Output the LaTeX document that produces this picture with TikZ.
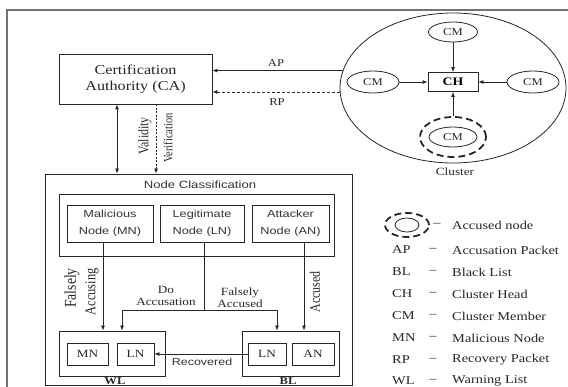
\documentclass[tikz,border=0pt]{standalone}
\usepackage{fontspec}
\setmainfont[FakeStretch=1.2]{Liberation Serif}
\setsansfont[FakeStretch=1.25]{Liberation Sans}
\newfontfamily\rotserif[FakeStretch=0.83]{Liberation Serif}
\usetikzlibrary{shapes.geometric,arrows.meta,calc}
\tikzset{
  ln/.style={draw=black!85, line width=0.8pt},
  box/.style={ln, rectangle, inner sep=0pt},
  oval/.style={ln, ellipse, inner sep=0pt},
  arr/.style={ln, -{Latex[length=5pt,width=4pt]}},
  darr/.style={ln, {Latex[length=5pt,width=4pt]}-{Latex[length=5pt,width=4pt]}},
  accdash/.style={draw=black!85, ellipse, inner sep=0pt, line width=1.8pt, dash pattern=on 7pt off 4pt},
  sf/.style={font=\sffamily\fontsize{10.2}{17}\selectfont, text=black!80},
  rm/.style={font=\fontsize{11}{12}\selectfont, text=black!85},
  cmtext/.style={font=\fontsize{10.5}{12}\selectfont, text=black!85},
  leg/.style={font=\fontsize{12}{13}\selectfont, text=black!85, anchor=west, inner sep=0pt},
  rot/.style={rotate=90, text=black!85, inner sep=0pt},
}
\begin{document}
\begin{tikzpicture}[x=1pt,y=-1pt]
\useasboundingbox (0,0) rectangle (568,387);
\draw[draw=black!55, line width=1.2pt] (7,10) rectangle (590,400);

% Certification authority
\node[box, minimum width=153pt, minimum height=50pt, align=center,
      font=\fontsize{13.5}{16}\selectfont, text=black!85] (ca) at (135.5,79) {Certification\\Authority (CA)};

% Cluster
\node[oval, minimum width=226pt, minimum height=150pt] (cluster) at (453,88) {};
\node[oval, cmtext, minimum width=49pt, minimum height=20pt] (cmt) at (453,32) {CM};
\node[oval, cmtext, minimum width=52pt, minimum height=22pt] (cml) at (373,82) {CM};
\node[oval, cmtext, minimum width=52pt, minimum height=22pt] (cmr) at (533,82) {CM};
\node[box, minimum width=50pt, minimum height=19pt, font=\bfseries\fontsize{11.5}{12}\selectfont] (ch) at (453,82) {CH};
\node[oval, cmtext, minimum width=48pt, minimum height=20pt] (cmb) at (453,137) {CM};
\node[accdash, minimum width=66pt, minimum height=40pt] (acc) at (453,137) {};
\node[cmtext, font=\fontsize{11}{12}\selectfont] (clbl) at (455,172) {Cluster};
\draw[arr] (cmt) -- (ch);
\draw[arr] (cml) -- (ch);
\draw[arr] (cmr) -- (ch);
\draw[arr] (acc) -- (ch);

% AP / RP
\draw[arr] (cluster.171.2) -- (cluster.171.2 -| ca.east);
\draw[arr, dash pattern=on 3pt off 2pt] (cluster.182) -- (cluster.182 -| ca.east);
\node[cmtext] (ap) at (276,63) {AP};
\node[cmtext] (rp) at (277,102) {RP};

% Node classification
\node[box, minimum width=307pt, minimum height=211pt] (big) at (198.5,279.5) {};
\node[sf, font=\sffamily\fontsize{10.5}{12}\selectfont] (nct) at (200,185) {Node Classification};
\node[box, minimum width=275pt, minimum height=62pt] (inner) at (196.5,225) {};
\node[box, sf, align=center, minimum width=86pt, minimum height=37pt] (mal) at (110,223.5) {Malicious\\Node (MN)};
\node[box, sf, align=center, minimum width=84pt, minimum height=37pt] (leg) at (202,223.5) {Legitimate\\Node (LN)};
\node[box, sf, align=center, minimum width=77pt, minimum height=37pt] (att) at (290.5,223.5) {Attacker\\Node (AN)};

% CA <-> classification
\draw[darr] ([xshift=-18.5pt]ca.south) -- ([xshift=-18.5pt]ca.south |- big.north);
\draw[arr, dash pattern=on 2pt off 1.5pt] ([xshift=20.5pt]ca.south) -- ([xshift=20.5pt]ca.south |- big.north);
\node[rot, font=\rotserif\fontsize{14.4}{14}\selectfont] (lval) at (145,136) {Validity};
\node[rot, font=\rotserif\fontsize{12.6}{13}\selectfont] (lver) at (168,138) {Verification};

% WL and BL
\node[box, minimum width=106pt, minimum height=45pt] (wl) at (112,353.5) {};
\node[box, rm, minimum width=41pt, minimum height=22pt] (wmn) at (87.5,354) {MN};
\node[box, rm, minimum width=37pt, minimum height=22pt] (wln) at (135.5,354) {LN};
\node[font=\bfseries\fontsize{10.5}{11}\selectfont, text=black!85, inner sep=0pt] (wllbl) at (115,381) {WL};
\node[box, minimum width=97pt, minimum height=45pt] (bl) at (290.5,353.5) {};
\node[box, rm, minimum width=38pt, minimum height=22pt] (bln) at (267,354) {LN};
\node[box, rm, minimum width=42pt, minimum height=22pt] (ban) at (313,354) {AN};
\node[font=\bfseries\fontsize{10.5}{11}\selectfont, text=black!85, inner sep=0pt] (bllbl) at (288,381) {BL};

% flows
\draw[arr] ([xshift=-7pt]mal.south) -- ([xshift=-7pt]mal.south |- wl.north);
\coordinate (junc) at (204,310);
\draw[ln] (leg.south -| junc) -- (junc);
\draw[arr] (junc) -| ([xshift=10pt]wl.north);
\draw[arr] (junc) -| ([xshift=-13.5pt]bl.north);
\draw[arr] ([xshift=13.5pt]att.south) -- ([xshift=13.5pt]att.south |- bl.north);
\draw[arr] (bln) -- (wln);

\node[rot, font=\rotserif\fontsize{16.5}{16}\selectfont] (lfa1) at (72,288) {Falsely};
\node[rot, font=\rotserif\fontsize{15}{15}\selectfont] (lfa2) at (92,292) {Accusing};
\node[rm, align=center] (ldo) at (166,296) {Do\\Accusation};
\node[rm, align=center] (lfd) at (240,297.5) {Falsely\\Accused};
\node[rot, font=\rotserif\fontsize{14.4}{14}\selectfont] (lacc) at (315,292) {Accused};
\node[sf, font=\sffamily\fontsize{10}{12}\selectfont] (lrec) at (202,362) {Recovered};

% Legend
\node[accdash, minimum width=44pt, minimum height=24pt] (lege) at (407,225) {};
\node[oval, minimum width=24pt, minimum height=14pt] (legi) at (407,225) {};
\node[leg, anchor=center] (d0) at (437,225) {--};
\node[leg] (t0) at (452,225) {Accused node};
\node[leg] (a1) at (392,250) {AP};  \node[leg, anchor=center] (d1) at (433,250) {--}; \node[leg] (t1) at (452,250) {Accusation Packet};
\node[leg] (a2) at (392,272) {BL};  \node[leg, anchor=center] (d2) at (433,272) {--}; \node[leg] (t2) at (452,272) {Black List};
\node[leg] (a3) at (392,294) {CH};  \node[leg, anchor=center] (d3) at (433,294) {--}; \node[leg] (t3) at (452,294) {Cluster Head};
\node[leg] (a4) at (392,316) {CM};  \node[leg, anchor=center] (d4) at (433,316) {--}; \node[leg] (t4) at (452,316) {Cluster Member};
\node[leg] (a5) at (392,338) {MN};  \node[leg, anchor=center] (d5) at (433,338) {--}; \node[leg] (t5) at (452,338) {Malicious Node};
\node[leg] (a6) at (392,360) {RP};  \node[leg, anchor=center] (d6) at (433,360) {--}; \node[leg] (t6) at (452,360) {Recovery Packet};
\node[leg] (a7) at (392,381) {WL};  \node[leg, anchor=center] (d7) at (433,381) {--}; \node[leg] (t7) at (452,381) {Warning List};
\end{tikzpicture}
\end{document}
